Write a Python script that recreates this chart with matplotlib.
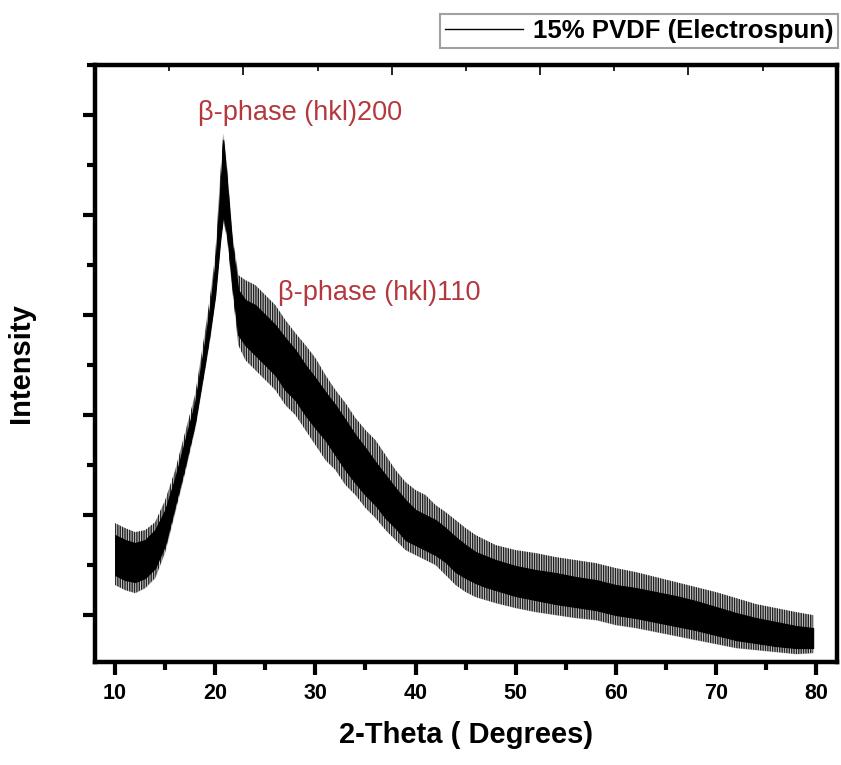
import matplotlib
matplotlib.use("Agg")
import matplotlib.pyplot as plt
from matplotlib.lines import Line2D
from matplotlib.ticker import MultipleLocator, NullFormatter

plt.rcParams['font.family'] = ['Liberation Sans', 'DejaVu Sans']
plt.rcParams['hatch.linewidth'] = 1.0

# 2-theta positions (degrees)
two_theta = [10.0, 11.0, 12.0, 13.0, 14.0, 15.0, 16.0, 17.0, 18.0, 19.0, 19.5,
             20.0, 20.5, 20.8, 21.2, 21.7, 22.3, 23.0, 24.0, 25.0, 26.0, 27.0,
             28.0, 29.0, 30.0, 31.0, 32.0, 33.0, 34.0, 35.0, 36.0, 37.0, 38.0,
             39.0, 40.0, 41.0, 42.0, 43.0, 44.0, 45.0, 46.0, 47.0, 48.0, 50.0,
             52.0, 54.0, 56.0, 58.0, 60.0, 62.0, 64.0, 66.0, 68.0, 70.0, 72.0,
             74.0, 76.0, 78.0, 79.7]

# dense body of the noisy trace (upper / lower edge, counts)
core_hi = [1800, 1750, 1720, 1750, 1850, 2050, 2370, 2750, 3130, 3750, 4100,
           4500, 5250, 5750, 5300, 4700, 4250, 4150, 4100, 4000, 3900, 3770,
           3650, 3500, 3370, 3230, 3100, 2950, 2800, 2670, 2530, 2400, 2270,
           2150, 2050, 2000, 1950, 1870, 1780, 1700, 1630, 1590, 1550, 1490,
           1450, 1420, 1380, 1350, 1300, 1270, 1230, 1190, 1140, 1080, 1020,
           970, 930, 890, 870]
core_lo = [1400, 1350, 1330, 1370, 1470, 1700, 2100, 2500, 2930, 3530, 3850,
           4200, 4750, 5000, 4800, 4300, 3800, 3700, 3600, 3500, 3400, 3250,
           3150, 3000, 2870, 2750, 2600, 2450, 2320, 2200, 2100, 1970, 1870,
           1750, 1700, 1650, 1600, 1530, 1430, 1370, 1320, 1280, 1250, 1190,
           1150, 1110, 1080, 1050, 1000, 970, 930, 890, 850, 800, 750,
           720, 690, 670, 670]

# extent reached by the noise spikes (upper / lower, counts)
spike_hi = [1920, 1870, 1830, 1850, 1930, 2150, 2450, 2830, 3210, 3850, 4200,
            4600, 5400, 5820, 5450, 4800, 4400, 4350, 4300, 4200, 4100, 3950,
            3820, 3700, 3570, 3400, 3250, 3120, 2970, 2850, 2750, 2600, 2450,
            2330, 2250, 2200, 2100, 2030, 1950, 1870, 1800, 1750, 1700, 1650,
            1620, 1580, 1550, 1520, 1470, 1430, 1380, 1330, 1280, 1230, 1170,
            1110, 1070, 1030, 1000]
spike_lo = [1300, 1250, 1220, 1270, 1370, 1630, 2030, 2430, 2870, 3470, 3770,
            4150, 4700, 4950, 4750, 4250, 3700, 3550, 3450, 3350, 3250, 3100,
            3000, 2850, 2700, 2550, 2450, 2300, 2200, 2070, 1970, 1850, 1750,
            1650, 1600, 1550, 1500, 1400, 1300, 1230, 1180, 1150, 1120, 1070,
            1030, 1000, 970, 950, 900, 870, 830, 790, 750, 710, 670,
            650, 630, 610, 620]

peak_labels = ["\u03b2-phase (hkl)200", "\u03b2-phase (hkl)110"]
peak_label_pos = [(28.5, 6020), (36.4, 4220)]
series_name = "15% PVDF (Electrospun)"

fig = plt.figure(figsize=(8.41, 7.65), dpi=100)
ax = fig.add_axes([0.113, 0.1346, 0.882, 0.7804])

# spike haze: light grey fill with fine vertical streaks
ax.fill_between(two_theta, spike_lo, spike_hi, color='#9a9a9a', alpha=0.45,
                linewidth=0)
ax.fill_between(two_theta, spike_lo, spike_hi, facecolor='none',
                edgecolor='#202020', hatch='|||||||', linewidth=0)
ax.fill_between(two_theta, core_lo, core_hi, color='black', linewidth=0.8)

ax.set_xlim(8, 82.06)
ax.set_ylim(530, 6500)

ax.xaxis.set_major_locator(MultipleLocator(10))
ax.xaxis.set_minor_locator(MultipleLocator(5))
ax.yaxis.set_major_locator(MultipleLocator(1000))
ax.yaxis.set_minor_locator(MultipleLocator(500))
ax.yaxis.set_major_formatter(NullFormatter())

ax.tick_params(axis='both', which='major', direction='out', length=9, width=3,
               labelsize=15.5, pad=6)
ax.tick_params(axis='both', which='minor', direction='out', length=6, width=3)
ax.tick_params(top=False, right=False)
for lab in ax.get_xticklabels():
    lab.set_fontweight('bold')

for s in ax.spines.values():
    s.set_linewidth(3.2)

ax.set_xlabel("2-Theta ( Degrees)", fontsize=21, fontweight='bold', labelpad=12)
ax.set_ylabel("Intensity", fontsize=21, fontweight='bold', labelpad=28)

# secondary top axis with fine inward ticks
top = ax.twiny()
top.set_xlim(0, 5)
top.xaxis.set_major_locator(MultipleLocator(1))
top.xaxis.set_minor_locator(MultipleLocator(0.5))
top.xaxis.set_major_formatter(NullFormatter())
top.tick_params(axis='x', which='major', direction='in', length=7, width=1.2)
top.tick_params(axis='x', which='minor', direction='in', length=4, width=1.2)
for s in top.spines.values():
    s.set_visible(False)

for text, (x, y) in zip(peak_labels, peak_label_pos):
    ax.text(x, y, text, color='#b4383c', fontsize=19.5, ha='center',
            va='center')

handle = Line2D([], [], color='black', linewidth=1.0)
leg = fig.legend([handle], [series_name], loc='upper right',
                 bbox_to_anchor=(1.0, 0.985), frameon=True, fancybox=False,
                 prop={'weight': 'bold', 'size': 18.5}, handlelength=3.0,
                 borderpad=0.2, handletextpad=0.4, borderaxespad=0.1)
leg.get_frame().set_edgecolor('#8a8a8a')
leg.get_frame().set_linewidth(1.5)

fig.savefig("out.png", dpi=100)
